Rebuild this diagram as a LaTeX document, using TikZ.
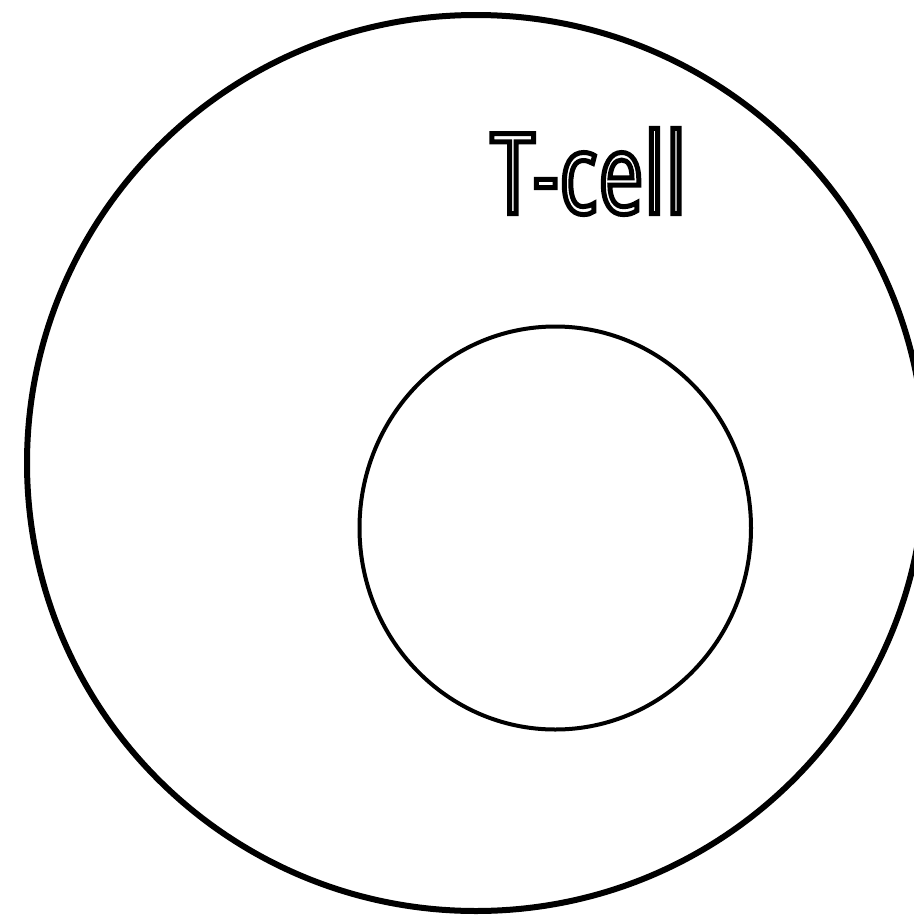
\documentclass[tikz,border=0pt]{standalone}
\usepackage{fontspec}
\newfontfamily\cellfont[FakeStretch=0.70,LetterSpace=1.5]{Open Sans}
\begin{document}
\begin{tikzpicture}[x=1bp,y=-1bp,
  membrane/.style={draw=black,line width=6bp},
  nucleus/.style={draw=black,line width=4bp},
  outlined/.style={font=\cellfont\fontsize{112bp}{112bp}\selectfont, inner sep=0pt, anchor=base}]
\useasboundingbox[fill=white] (0,0) rectangle (914,917);
\draw[membrane] (476,463) ellipse [x radius=449, y radius=448];
\draw[nucleus] (555.25,528) ellipse [x radius=195.75, y radius=201.5];
\node[outlined] (label) at (588.5,213.5) {\special{pdf:literal direct 1 Tr 5 w}T-cell\special{pdf:literal direct 0 Tr}};
\end{tikzpicture}
\end{document}
